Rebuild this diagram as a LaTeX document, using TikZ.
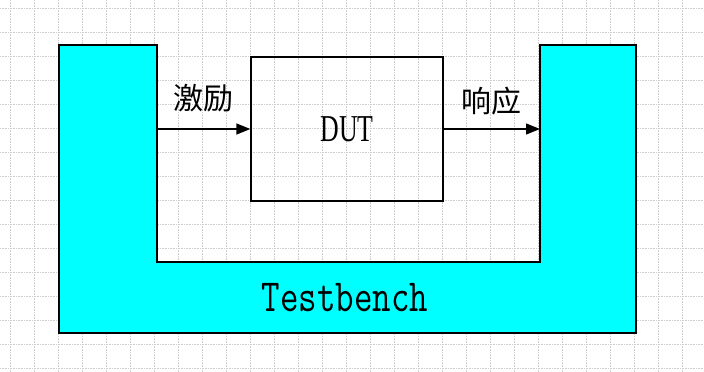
\documentclass[tikz,border=0pt]{standalone}
\usepackage{fontspec}
\usepackage{graphicx}
\usepackage{xcolor}
\usepackage{tikz}
\usetikzlibrary{arrows.meta,positioning,calc}
\newfontfamily\cjkfont{Noto Sans CJK SC}
\newfontfamily\dutfont[FakeStretch=0.68]{Liberation Serif}
\definecolor{tbcyan}{RGB}{0,255,255}

\begin{document}
\begin{tikzpicture}[
    x=1pt, y=-1pt,
    gridline/.style={gray!40, densely dotted, line width=0.6pt},
    bench/.style={draw, fill=tbcyan, line width=1.5pt},
    dutbox/.style={draw, line width=1.3pt, minimum width=192pt, minimum height=144pt,
                   font=\dutfont\fontsize{38}{40}\selectfont},
    lbl/.style={inner sep=0pt, font=\cjkfont\fontsize{30}{32}\selectfont},
    arr/.style={-{Triangle[length=14pt,width=11pt]}, line width=1.3pt}]
  \useasboundingbox (0,0) rectangle (704,372);
  % background grid
  \foreach \gx in {10,34,...,706} \draw[gridline] (\gx,0) -- (\gx,372);
  \foreach \gy in {8,32,...,372} \draw[gridline] (0,\gy) -- (704,\gy);
  % testbench
  \draw[bench] (59,45) -- (157,45) -- (157,262) -- (540,262) -- (540,45)
    -- (636,45) -- (636,333) -- (59,333) -- cycle;
  \node[inner sep=0pt, font=\ttfamily\fontsize{46}{48}\selectfont] (tb) at (345,298)
    {\scalebox{0.78}[1]{Testbench}};
  \node[dutbox] (dut) at (347,129) {DUT};
  \coordinate (stim) at (157,129);
  \coordinate (resp) at (540,129);
  \draw[arr] (stim) -- node[lbl, above=16pt] (stimlbl) {激励} (dut.west);
  \draw[arr] (dut.east) -- node[lbl, above=13pt] (resplbl) {响应} (resp);
\end{tikzpicture}
\end{document}
